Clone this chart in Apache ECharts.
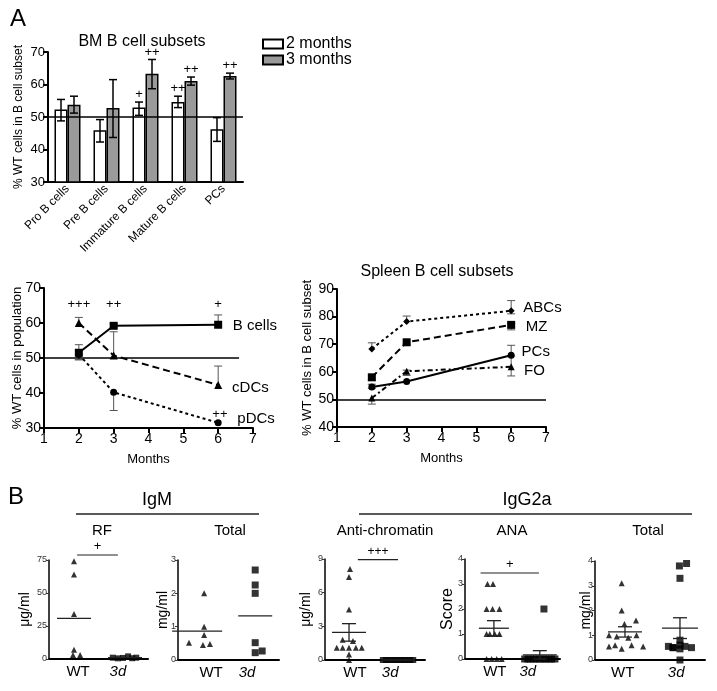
<!DOCTYPE html>
<html><head><meta charset="utf-8">
<script src="https://cdn.jsdelivr.net/npm/echarts@6/dist/echarts.min.js"></script>
<style>html,body{margin:0;padding:0;background:#fff}#c{width:717px;height:691px}</style>
</head><body><div id="c"></div><script>
const FONT = '"Liberation Sans", Arial, Helvetica, sans-serif';

// ---------- Panel A: BM B cell subsets ----------
const bmCategories = ['Pro B cells', 'Pre B cells', 'Immature B cells', 'Mature B cells', 'PCs'];
const bm2 = [52.3, 45.9, 52.9, 54.6, 46.2];
const bm2Hi = [55.4, 49.2, 54.6, 56.4, 49.8];
const bm2Lo = [48.8, 42.3, 50.5, 52.9, 42.5];
const bm3 = [53.8, 52.8, 63.3, 61.1, 62.6];
const bm3Hi = [56.4, 61.5, 67.7, 62.3, 63.5];
const bm3Lo = [51.2, 43.7, 58.7, 59.8, 61.7];
const bm2Sig = ['', '', '+', '++', ''];
const bm3Sig = ['', '', '++', '++', '++'];

// ---------- Panel A: populations over months ----------
const months = [2, 3, 6];
const bCells = [51.5, 59.2, 59.5];
const bCellsHi = [53.8, 59.8, 62.3];
const bCellsLo = [49.5, 58.6, 59.5];
const cDCs = [60.0, 50.7, 42.3];
const cDCsHi = [61.6, 57.5, 47.7];
const cDCsLo = [60.0, 50.7, 42.3];
const pDCs = [51.0, 40.2, 31.5];
const pDCsHi = [51.0, 40.2, 31.5];
const pDCsLo = [49.5, 35.0, 31.5];
const popSig = ['+++', '++', '+'];

// ---------- Panel A: Spleen B cell subsets ----------
const abcs = [68.3, 78.2, 82.1];
const abcsHi = [70.5, 80.2, 85.8];
const abcsLo = [68.3, 78.2, 81.0];
const mz = [58.0, 70.7, 77.0];
const mzHi = [58.0, 70.7, 77.5];
const mzLo = [57.0, 70.0, 75.2];
const spPCs = [54.5, 56.5, 66.0];
const spPCsHi = [55.5, 56.5, 69.6];
const spPCsLo = [54.0, 56.5, 66.0];
const fo = [50.5, 60.2, 61.8];
const foHi = [50.5, 60.6, 65.7];
const foLo = [48.3, 58.7, 58.5];

// ---------- Panel B ----------
const rfWT = [74, 64, 34, 7, 3, 3];
const rfWTJit = [0, 0, 0, 0, -0.02, 0.12];
const rf3d = [1.0, 0.5, 0.8, 2.0, 0.6, 1.0];
const rf3dJit = [-0.24, -0.14, -0.04, 0.06, 0.14, 0.22];

const igmTotWT = [2.0, 1.0, 0.75, 0.52, 0.45, 0.48];
const igmTotWTJit = [0.12, 0.12, 0.12, -0.14, 0.10, 0.22];
const igmTot3d = [2.7, 2.25, 2.0, 0.52, 0.22, 0.27];
const igmTot3dJit = [0, 0, 0, 0, 0, 0.12];

const acWT = [8.1, 7.4, 4.5, 1.8, 1.7, 1.1, 1.1, 1.1, 1.1, 1.1, 0.5, 0];
const acWTJit = [0.02, 0, 0, -0.13, 0.08, -0.25, -0.13, 0, 0.14, 0.26, 0, 0];
const ac3d = [0, 0, 0, 0, 0, 0, 0, 0, 0, 0, 0, 0];
const ac3dJit = [-0.31, -0.25, -0.2, -0.14, -0.08, -0.03, 0.03, 0.08, 0.14, 0.2, 0.25, 0.31];

const anaWT = [3, 3, 2, 2, 2, 1, 1, 1, 1, 0, 0, 0, 0];
const anaWTJit = [-0.14, -0.02, -0.16, -0.03, 0.12, -0.16, -0.09, 0.02, 0.12, -0.16, -0.05, 0.06, 0.17];
const ana3d = [2, 0, 0, 0, 0, 0, 0, 0, 0, 0, 0, 0];
const ana3dJit = [0.09, -0.33, -0.26, -0.2, -0.13, -0.07, 0, 0.07, 0.13, 0.2, 0.26, 0.33];

const g2aTotWT = [3.1, 2.0, 1.6, 1.45, 1.0, 0.95, 0.9, 1.0, 0.6, 0.55, 0.6, 0.55, 0.45];
const g2aTotWTJit = [-0.06, -0.06, 0.2, -0.01, -0.29, -0.15, 0.06, 0.21, -0.18, -0.29, 0.12, 0.33, -0.06];
const g2aTot3d = [3.9, 3.8, 3.3, 0.8, 0.55, 0.5, 0.45, 0.55, 0.5, 0.6, 0.5, 0];
const g2aTot3dJit = [0.12, -0.01, 0, 0, -0.21, -0.12, 0, 0.09, 0.21, 0, -0.13, 0];

// ---------- helpers ----------
const mean = a => a.reduce((s, v) => s + v, 0) / a.length;
const sem = a => { const m = mean(a); const v = a.reduce((s, x) => s + (x - m) * (x - m), 0) / (a.length - 1); return Math.sqrt(v / a.length); };

function errSeries(idx, xs, vals, his, los, off, cap, color, width) {
  return {
    type: 'custom', xAxisIndex: idx, yAxisIndex: idx, silent: true, z: 3,
    data: xs.map((x, i) => [x, vals[i], his[i], los[i]]),
    renderItem: (params, api) => {
      const x = api.value(0), v = api.value(1), hi = api.value(2), lo = api.value(3);
      const ph = api.coord([x, hi]), pl = api.coord([x, lo]);
      const cx = ph[0] + off;
      const st = { stroke: color, lineWidth: width };
      const ch = [{ type: 'line', shape: { x1: cx, y1: ph[1], x2: cx, y2: pl[1] }, style: st }];
      if (hi > v) ch.push({ type: 'line', shape: { x1: cx - cap, y1: ph[1], x2: cx + cap, y2: ph[1] }, style: st });
      if (lo < v) ch.push({ type: 'line', shape: { x1: cx - cap, y1: pl[1], x2: cx + cap, y2: pl[1] }, style: st });
      return { type: 'group', children: ch };
    }
  };
}

function textSeries(idx, items, fontSize) {
  return {
    type: 'custom', xAxisIndex: idx, yAxisIndex: idx, silent: true, z: 6,
    data: items.map(it => [it.x, it.y]),
    renderItem: (params, api) => {
      const it = items[params.dataIndex];
      const p = api.coord([it.x, it.y]);
      return { type: 'text', x: p[0] + (it.dx || 0), y: p[1] + (it.dy || 0),
        style: { text: it.text, fill: '#000', font: (fontSize) + 'px ' + FONT, align: it.align || 'center', verticalAlign: it.va || 'bottom' } };
    }
  };
}

function meanSeries(idx, groups) {
  return {
    type: 'custom', xAxisIndex: idx, yAxisIndex: idx, silent: true, z: 5,
    data: groups.map(g => [g.x, mean(g.values)]),
    renderItem: (params, api) => {
      const g = groups[params.dataIndex];
      const m = mean(g.values);
      const p = api.coord([g.x, m]);
      const st = { stroke: '#222', lineWidth: 1.3 };
      const ch = [{ type: 'line', shape: { x1: p[0] - g.hw, y1: p[1], x2: p[0] + g.hw, y2: p[1] }, style: st }];
      if (g.sem) {
        const s = sem(g.values);
        const t = api.coord([g.x, m + s]), b = api.coord([g.x, m - s]);
        ch.push({ type: 'line', shape: { x1: p[0], y1: t[1], x2: p[0], y2: b[1] }, style: st });
        ch.push({ type: 'line', shape: { x1: p[0] - 7, y1: t[1], x2: p[0] + 7, y2: t[1] }, style: st });
        ch.push({ type: 'line', shape: { x1: p[0] - 7, y1: b[1], x2: p[0] + 7, y2: b[1] }, style: st });
      }
      return { type: 'group', children: ch };
    }
  };
}

function sigBar(idx, x1, x2, y, text, fs) {
  return {
    type: 'custom', xAxisIndex: idx, yAxisIndex: idx, silent: true, z: 5,
    data: [[x1, y]],
    renderItem: (params, api) => {
      const a = api.coord([x1, y]), b = api.coord([x2, y]);
      return { type: 'group', children: [
        { type: 'line', shape: { x1: a[0], y1: a[1], x2: b[0], y2: b[1] }, style: { stroke: '#222', lineWidth: 1.2 } },
        { type: 'text', x: (a[0] + b[0]) / 2, y: a[1] - 2, style: { text: text, fill: '#000', font: fs + 'px ' + FONT, align: 'center', verticalAlign: 'bottom' } }
      ] };
    }
  };
}

function scatterS(idx, values, jit, center, symbol, size) {
  return { type: 'scatter', xAxisIndex: idx, yAxisIndex: idx, silent: true, z: 4,
    data: values.map((v, i) => [center + jit[i], v]), symbol: symbol, symbolSize: size,
    itemStyle: { color: '#000' } };
}

// ---------- layout ----------
const grids = [
  { left: 48, top: 52, width: 195, height: 130 },   // 0 BM bars
  { left: 44, top: 288, width: 209, height: 140 },  // 1 populations
  { left: 337, top: 289, width: 209, height: 138 }, // 2 spleen
  { left: 49, top: 560, width: 99, height: 99 },    // 3 RF
  { left: 178, top: 560, width: 101, height: 100 }, // 4 IgM total
  { left: 325, top: 559, width: 100, height: 101 }, // 5 anti-chromatin
  { left: 465, top: 559, width: 95, height: 100 },  // 6 ANA
  { left: 595, top: 561, width: 110, height: 99 }   // 7 IgG2a total
];

const axLine = (w) => ({ show: true, onZero: false, lineStyle: { color: '#000', width: w } });
const noSplit = { show: false };

function monthsX(idx) {
  return { gridIndex: idx, type: 'value', min: 1, max: 7, interval: 1, axisLine: axLine(2),
    axisTick: { show: true, length: 5, lineStyle: { color: '#000', width: 2 } },
    axisLabel: { fontSize: 14, color: '#000', fontFamily: FONT, margin: 4 }, splitLine: noSplit,
    name: 'Months', nameLocation: 'middle', nameGap: 25, nameMoveOverlap: false,
    nameTextStyle: { fontSize: 13, color: '#000', fontFamily: FONT } };
}
function valY(idx, min, max, interval, name, nameGap, fs, nfs) {
  return { gridIndex: idx, type: 'value', min: min, max: max, interval: interval, axisLine: axLine(2),
    axisTick: { show: true, length: 5, lineStyle: { color: '#000', width: 2 } },
    axisLabel: { fontSize: fs, color: '#000', fontFamily: FONT, margin: 3 }, splitLine: noSplit,
    name: name, nameLocation: 'middle', nameGap: nameGap, nameRotate: 90, nameMoveOverlap: false,
    nameTextStyle: { fontSize: nfs, color: '#000', fontFamily: FONT } };
}
function grpX(idx, min, max, labWT, lab3d) {
  return { gridIndex: idx, type: 'value', min: min, max: max, axisLine: axLine(2), axisTick: { show: false },
    splitLine: noSplit,
    axisLabel: { customValues: [labWT, lab3d], color: '#000', fontSize: 15, fontFamily: FONT, margin: 5,
      formatter: v => (v < (labWT + lab3d) / 2 ? 'WT' : '{i|3d}'),
      rich: { i: { fontStyle: 'italic', fontSize: 15, fontFamily: FONT, color: '#000' } } } };
}
function grpY(idx, max, interval, name, nameGap, nfs) {
  return { gridIndex: idx, type: 'value', min: 0, max: max, interval: interval, axisLine: axLine(1.5),
    axisTick: { show: true, length: 3, lineStyle: { color: '#333', width: 1 } },
    axisLabel: { fontSize: 9, color: '#333', fontFamily: FONT, margin: 2 }, splitLine: noSplit,
    name: name, nameLocation: 'middle', nameGap: nameGap, nameRotate: 90, nameMoveOverlap: false,
    nameTextStyle: { fontSize: nfs, color: '#000', fontFamily: FONT } };
}

const xAxis = [
  { gridIndex: 0, type: 'category', data: bmCategories, axisLine: axLine(2), axisTick: { show: false },
    axisLabel: { rotate: 45, interval: 0, fontSize: 12, color: '#000', fontFamily: FONT, margin: 5 } },
  monthsX(1), monthsX(2),
  grpX(3, -0.49, 1.45, 0.08, 0.86),
  grpX(4, -0.33, 1.41, 0.24, 0.86),
  grpX(5, -0.49, 1.55, 0.12, 0.84),
  grpX(6, -0.63, 1.44, 0.02, 0.74),
  grpX(7, -0.545, 1.455, -0.04, 0.93)
];
const yAxis = [
  valY(0, 30, 70, 10, '% WT cells in B cell subset', 23, 13, 12),
  valY(1, 30, 70, 10, '% WT cells in population', 20, 14, 13),
  valY(2, 40, 90, 10, '% WT cells in B cell subset', 23, 14, 13),
  grpY(3, 75, 25, 'μg/ml', 17, 14),
  grpY(4, 3, 1, 'mg/ml', 8, 14),
  grpY(5, 9, 3, 'μg/ml', 12, 14),
  grpY(6, 4, 1, 'Score', 9, 16),
  grpY(7, 4, 1, 'mg/ml', 2, 14)
];

const refLine = (data) => ({ silent: true, symbol: ['none', 'none'], label: { show: false },
  lineStyle: { color: '#000', width: 1.5, type: 'solid' }, emphasis: { disabled: true }, data: data });

const lineS = (idx, name, vals, symbol, size, dash) => ({
  type: 'line', name: name, xAxisIndex: idx, yAxisIndex: idx, silent: true, z: 4,
  data: months.map((m, i) => [m, vals[i]]), symbol: symbol, symbolSize: size,
  lineStyle: { color: '#000', width: 2, type: dash }, itemStyle: { color: '#000' }
});

const series = [
  // BM bars
  { type: 'bar', name: '2 months', xAxisIndex: 0, yAxisIndex: 0, data: bm2, barWidth: 13, barGap: '0%',
    itemStyle: { color: '#ffffff', borderColor: '#000', borderWidth: 1.5 }, silent: true,
    markLine: refLine([{ yAxis: 50 }]) },
  { type: 'bar', name: '3 months', xAxisIndex: 0, yAxisIndex: 0, data: bm3, barWidth: 13, barGap: '0%',
    itemStyle: { color: '#9a9a9a', borderColor: '#000', borderWidth: 1.5 }, silent: true },
  errSeries(0, bmCategories.map((c, i) => i), bm2, bm2Hi, bm2Lo, -6.5, 4, '#000', 1.5),
  errSeries(0, bmCategories.map((c, i) => i), bm3, bm3Hi, bm3Lo, 6.5, 4, '#000', 1.5),
  textSeries(0, bm2Sig.map((t, i) => ({ x: i, y: bm2Hi[i], text: t, dx: -6.5, dy: -1 })).filter(o => o.text), 13),
  textSeries(0, bm3Sig.map((t, i) => ({ x: i, y: bm3Hi[i], text: t, dx: 6.5, dy: -1 })).filter(o => o.text), 13),

  // populations
  Object.assign(lineS(1, 'B cells', bCells, 'rect', 8, 'solid'), { markLine: refLine([[{ coord: [1, 50] }, { coord: [6.6, 50] }]]) }),
  lineS(1, 'cDCs', cDCs, 'triangle', 8, [7, 4]),
  lineS(1, 'pDCs', pDCs, 'circle', 7, [3, 3]),
  errSeries(1, months, bCells, bCellsHi, bCellsLo, 0, 4, '#555', 1),
  errSeries(1, months, cDCs, cDCsHi, cDCsLo, 0, 4, '#555', 1),
  errSeries(1, months, pDCs, pDCsHi, pDCsLo, 0, 4, '#555', 1),
  textSeries(1, [
    { x: 6.42, y: 59.2, text: 'B cells', align: 'left', va: 'middle' },
    { x: 6.4, y: 41.4, text: 'cDCs', align: 'left', va: 'middle' },
    { x: 6.55, y: 32.5, text: 'pDCs', align: 'left', va: 'middle' }
  ], 15),
  textSeries(1, popSig.map((t, i) => ({ x: months[i], y: 65.2, text: t, va: 'middle' }))
    .concat([{ x: 6.05, y: 33.8, text: '++', va: 'middle' }]), 13),

  // spleen
  Object.assign(lineS(2, 'ABCs', abcs, 'diamond', 7, [3, 3]), { markLine: refLine([{ yAxis: 50 }]) }),
  lineS(2, 'MZ', mz, 'rect', 8, [7, 4]),
  lineS(2, 'PCs', spPCs, 'circle', 7, 'solid'),
  lineS(2, 'FO', fo, 'triangle', 7, [5, 3, 2, 3]),
  errSeries(2, months, abcs, abcsHi, abcsLo, 0, 4, '#555', 1),
  errSeries(2, months, mz, mzHi, mzLo, 0, 4, '#555', 1),
  errSeries(2, months, spPCs, spPCsHi, spPCsLo, 0, 4, '#555', 1),
  errSeries(2, months, fo, foHi, foLo, 0, 4, '#555', 1),
  textSeries(2, [
    { x: 6.35, y: 83.2, text: 'ABCs', align: 'left', va: 'middle' },
    { x: 6.42, y: 76.3, text: 'MZ', align: 'left', va: 'middle' },
    { x: 6.3, y: 67.2, text: 'PCs', align: 'left', va: 'middle' },
    { x: 6.37, y: 60.3, text: 'FO', align: 'left', va: 'middle' }
  ], 15),

  // RF
  scatterS(3, rfWT, rfWTJit, 0, 'triangle', 6),
  scatterS(3, rf3d, rf3dJit, 1, 'rect', 6),
  meanSeries(3, [{ x: 0, values: rfWT, hw: 17 }, { x: 1, values: rf3d, hw: 17 }]),
  sigBar(3, 0.06, 0.86, 78.8, '+', 13),
  // IgM total
  scatterS(4, igmTotWT, igmTotWTJit, 0, 'triangle', 6),
  scatterS(4, igmTot3d, igmTot3dJit, 1, 'rect', 7),
  meanSeries(4, [{ x: 0, values: igmTotWT, hw: 25 }, { x: 1, values: igmTot3d, hw: 17 }]),
  // anti-chromatin
  scatterS(5, acWT, acWTJit, 0, 'triangle', 6),
  scatterS(5, ac3d, ac3dJit, 1, 'rect', 6),
  meanSeries(5, [{ x: 0, values: acWT, hw: 17, sem: true }, { x: 1, values: ac3d, hw: 17 }]),
  sigBar(5, 0.18, 1.0, 8.94, '+++', 12),
  // ANA
  scatterS(6, anaWT, anaWTJit, 0, 'triangle', 6),
  scatterS(6, ana3d, ana3dJit, 1, 'rect', 7),
  meanSeries(6, [{ x: 0, values: anaWT, hw: 15, sem: true }, { x: 1, values: ana3d, hw: 17, sem: true }]),
  sigBar(6, -0.29, 0.98, 3.44, '+', 13),
  // IgG2a total
  scatterS(7, g2aTotWT, g2aTotWTJit, 0, 'triangle', 6),
  scatterS(7, g2aTot3d, g2aTot3dJit, 1, 'rect', 7),
  meanSeries(7, [{ x: 0, values: g2aTotWT, hw: 17, sem: true }, { x: 1, values: g2aTot3d, hw: 18, sem: true }])
];

const txt = (x, y, text, size, align) => ({ type: 'text', x: x, y: y,
  style: { text: text, fill: '#000', font: size + 'px ' + FONT, align: align || 'center', verticalAlign: 'middle' } });

const graphic = [
  txt(10, 19, 'A', 24, 'left'),
  txt(142, 42, 'BM B cell subsets', 16),
  txt(437, 272, 'Spleen B cell subsets', 16),
  txt(8, 497, 'B', 24, 'left'),
  txt(157, 500, 'IgM', 18),
  txt(527, 500, 'IgG2a', 18),
  { type: 'line', shape: { x1: 76, y1: 514, x2: 259, y2: 514 }, style: { stroke: '#222', lineWidth: 1.5 } },
  { type: 'line', shape: { x1: 359, y1: 514, x2: 692, y2: 514 }, style: { stroke: '#222', lineWidth: 1.5 } },
  txt(102, 531, 'RF', 15),
  txt(230, 531, 'Total', 15),
  txt(385, 531, 'Anti-chromatin', 15),
  txt(512, 531, 'ANA', 15),
  txt(648, 531, 'Total', 15)
];

const chart = echarts.init(document.getElementById('c'), null, { renderer: 'canvas' });
chart.setOption({
  animation: false,
  backgroundColor: '#fff',
  textStyle: { fontFamily: FONT },
  grid: grids,
  xAxis: xAxis,
  yAxis: yAxis,
  legend: { data: ['2 months', '3 months'], orient: 'vertical', left: 257, top: 31, icon: 'rect',
    itemWidth: 20, itemHeight: 9, itemGap: 0, selectedMode: false,
    textStyle: { fontSize: 16, color: '#000', fontFamily: FONT, padding: [0, 0, 0, -2] } },
  graphic: graphic,
  series: series
});
</script></body></html>
